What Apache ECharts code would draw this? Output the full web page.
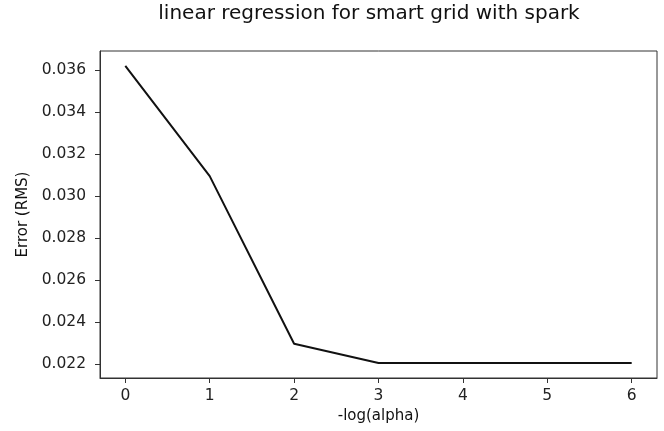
<!DOCTYPE html>
<html><head><meta charset="utf-8">
<script src="https://cdn.jsdelivr.net/npm/echarts@6/dist/echarts.min.js"></script>
<style>html,body{margin:0;padding:0;background:#fff}#c{width:664px;height:431px}</style>
</head><body><div id="c"></div>
<script>
const xValues = [0, 1, 2, 3, 4, 5, 6];
const errorRMS = [0.0362, 0.03095, 0.02297, 0.02205, 0.02205, 0.02205, 0.02205];
const xTicks = [0, 1, 2, 3, 4, 5, 6];
const yTicks = [0.022, 0.024, 0.026, 0.028, 0.030, 0.032, 0.034, 0.036];

const font = 'DejaVu Sans';
const chart = echarts.init(document.getElementById('c'), null, {renderer: 'canvas'});
chart.setOption({
  animation: false,
  backgroundColor: '#fff',
  title: {
    text: 'linear regression for smart grid with spark',
    left: 369, top: 4, textAlign: 'center', padding: 0,
    textStyle: {fontFamily: font, fontSize: 20, fontWeight: 'normal', color: '#111'}
  },
  grid: {left: 100, right: 7, top: 51, bottom: 53},
  xAxis: {
    type: 'value', min: -0.3, max: 6.3,
    name: '-log(alpha)', nameLocation: 'middle', nameGap: 31,
    nameTextStyle: {fontFamily: font, fontSize: 15, color: '#111'},
    axisLine: {show: true, onZero: false, lineStyle: {color: '#333', width: 1}},
    axisTick: {show: true, length: 5, lineStyle: {color: '#333'}, customValues: xTicks},
    axisLabel: {fontFamily: font, fontSize: 15.5, color: '#222', margin: 10, customValues: xTicks,
      formatter: v => String(v)},
    splitLine: {show: false}
  },
  yAxis: {
    type: 'value', min: 0.02134, max: 0.03691,
    name: 'Error (RMS)', nameLocation: 'middle', nameGap: 68, nameRotate: 90,
    nameTextStyle: {fontFamily: font, fontSize: 15, color: '#111'},
    axisLine: {show: true, onZero: false, lineStyle: {color: '#333', width: 1}},
    axisTick: {show: true, length: 5, lineStyle: {color: '#333'}, customValues: yTicks},
    axisLabel: {fontFamily: font, fontSize: 15.5, color: '#222', margin: 14, customValues: yTicks,
      formatter: v => v.toFixed(3)},
    splitLine: {show: false}
  },
  graphic: [{
    type: 'rect', z: 100, silent: true,
    shape: {x: 100, y: 51, width: 557, height: 327},
    style: {fill: 'none', stroke: '#333', lineWidth: 1}
  }],
  series: [{
    type: 'line',
    data: xValues.map((x, i) => [x, errorRMS[i]]),
    showSymbol: false, symbol: 'none',
    lineStyle: {color: '#111', width: 2},
    z: 5
  }]
});
</script></body></html>
